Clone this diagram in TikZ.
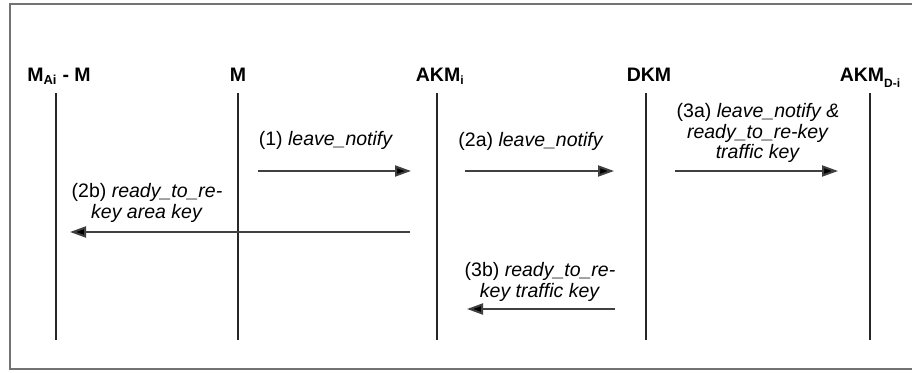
\documentclass[tikz,border=0pt]{standalone}
\usepackage{fontspec}
\setmainfont{Liberation Sans}
\usetikzlibrary{arrows.meta}
\begin{document}
\begin{tikzpicture}[x=1pt,y=-1pt,
  head/.style={font=\fontsize{19.5}{21}\selectfont\bfseries, anchor=base, inner sep=0pt},
  msg/.style={font=\fontsize{19.5}{21}\selectfont, anchor=base, inner sep=0pt},
  lifeline/.style={line width=2.2pt, draw=black!85},
  arrowline/.style={line width=2pt, draw=black!75,
    -{Triangle[length=16pt,width=11pt,fill=black]}},
  frameline/.style={line width=2pt, draw=black!55}]
\useasboundingbox (0,0) rectangle (912,372);
% frame (open on the right)
\draw[frameline] (912,4) -- (10,4) -- (10,369) -- (912,369);

% participants
\node[head] (hA)  at (59,81)  {M\textsubscript{\fontsize{13}{13}\selectfont Ai} - M};
\node[head] (hM)  at (238,81) {M};
\node[head] (hK)  at (440,81) {AKM\textsubscript{\fontsize{12}{12}\selectfont i}};
\node[head] (hD)  at (649,81) {DKM};
\node[head] (hKD) at (870,81) {AKM\raisebox{-6pt}{\fontsize{12}{12}\selectfont D-i}};

% lifelines
\coordinate (tA) at (56,93);   \coordinate (bA) at (56,340);
\coordinate (tM) at (238,93);  \coordinate (bM) at (238,340);
\coordinate (tK) at (437,93);  \coordinate (bK) at (437,340);
\coordinate (tD) at (646,93);  \coordinate (bD) at (646,340);
\coordinate (tKD) at (870,93); \coordinate (bKD) at (870,340);
\foreach \p in {A,M,K,D,KD} \draw[lifeline] (t\p) -- (b\p);

% message endpoints
\coordinate (m1s) at (258,171); \coordinate (m1e) at (411,171);
\coordinate (m2as) at (465,171); \coordinate (m2ae) at (614,171);
\coordinate (m3as) at (675,171); \coordinate (m3ae) at (838,171);
\coordinate (m2bs) at (410,232); \coordinate (m2be) at (70,232);
\coordinate (m3bs) at (615,309); \coordinate (m3be) at (467,309);

\draw[arrowline] (m1s) -- (m1e);
\draw[arrowline] (m2as) -- (m2ae);
\draw[arrowline] (m3as) -- (m3ae);
\draw[arrowline] (m2bs) -- (m2be);
\draw[arrowline] (m3bs) -- (m3be);

% message labels
\node[msg] (l1)  at (326,145) {(1) \textit{leave\_notify}};
\node[msg] (l2a) at (531,146) {(2a) \textit{leave\_notify}};
\node[msg] (l3a1) at (758,117) {(3a) \textit{leave\_notify \&}};
\node[msg] (l3a2) at (758,138) {\textit{ready\_to\_re-key}};
\node[msg] (l3a3) at (758,158) {\textit{traffic key}};
\node[msg] (l2b1) at (147,197) {(2b) \textit{ready\_to\_re-}};
\node[msg] (l2b2) at (147,218) {\textit{key area key}};
\node[msg] (l3b1) at (540,276) {(3b) \textit{ready\_to\_re-}};
\node[msg] (l3b2) at (540,297) {\textit{key traffic key}};
\end{tikzpicture}
\end{document}
